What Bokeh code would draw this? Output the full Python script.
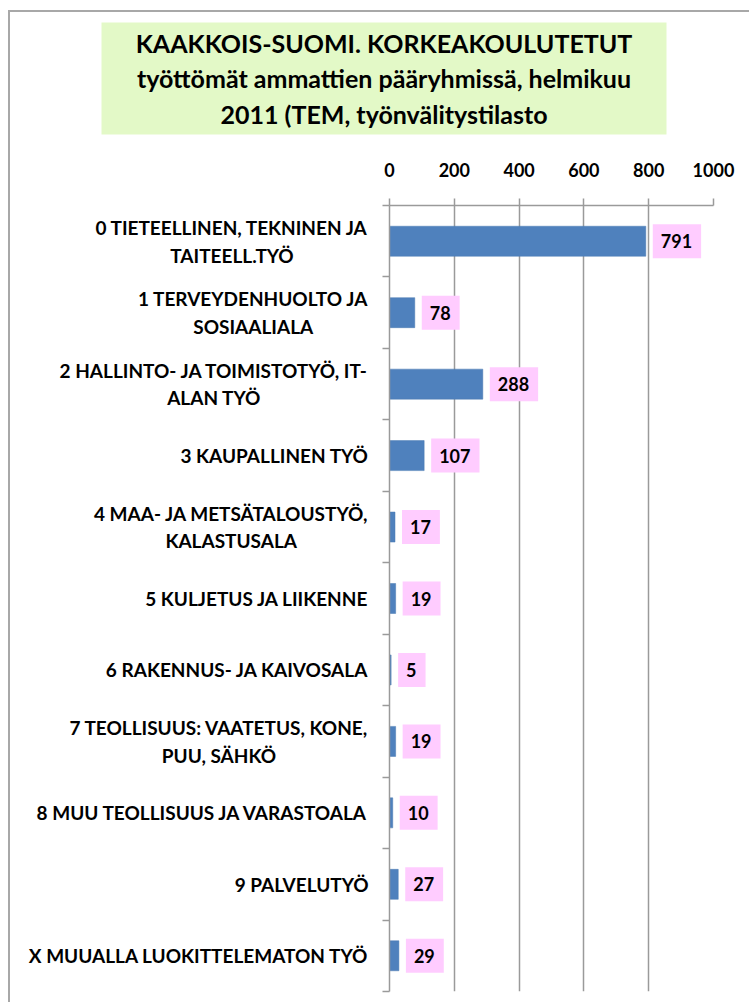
from bokeh.plotting import figure
from bokeh.models import ColumnDataSource, FixedTicker, Range1d
from bokeh.layouts import column, row
from bokeh.core.properties import value
from bokeh.embed import file_html
from bokeh.resources import INLINE

title_lines = ["KAAKKOIS-SUOMI. KORKEAKOULUTETUT",
               "työttömät ammattien pääryhmissä, helmikuu",
               "2011 (TEM, työnvälitystilasto"]

categories = [
    "0 TIETEELLINEN, TEKNINEN JA\nTAITEELL.TYÖ",
    "1 TERVEYDENHUOLTO JA\nSOSIAALIALA",
    "2 HALLINTO- JA TOIMISTOTYÖ, IT-\nALAN TYÖ",
    "3 KAUPALLINEN TYÖ",
    "4 MAA- JA METSÄTALOUSTYÖ,\nKALASTUSALA",
    "5 KULJETUS JA LIIKENNE",
    "6 RAKENNUS- JA KAIVOSALA",
    "7 TEOLLISUUS: VAATETUS, KONE,\nPUU, SÄHKÖ",
    "8 MUU TEOLLISUUS JA VARASTOALA",
    "9 PALVELUTYÖ",
    "X MUUALLA LUOKITTELEMATON TYÖ",
]
values = [791, 78, 288, 107, 17, 19, 5, 19, 10, 27, 29]
x_ticks = [0, 200, 400, 600, 800, 1000]

FONT = "Lato"
n = len(categories)
ypos = list(range(n))
yrange = Range1d(n - 0.5, -0.5)

src = ColumnDataSource(dict(y=ypos, v=values, lbl=[str(v) for v in values], cat=categories))

# ---------------- title panel ----------------
tf = figure(width=739, height=130, output_backend="svg", toolbar_location=None,
            x_range=Range1d(0, 739), y_range=Range1d(130, 0),
            x_axis_type=None, y_axis_type=None,
            min_border=0, min_border_left=0, min_border_right=0,
            min_border_top=0, min_border_bottom=0)
tf.outline_line_color = None
tf.grid.visible = False
tf.quad(left=[91], right=[656], top=[10], bottom=[122],
        fill_color="#E3F9C7", line_color=None)
tf.text(x=[373.5], y=[66], text=["\n".join(title_lines)],
        text_align="center", text_baseline="middle",
        text_font=value(FONT), text_font_style="bold", text_font_size="25px",
        text_line_height=1.18, text_color="#000000")

# ---------------- category label panel ----------------
lf = figure(width=372, height=860, output_backend="svg", toolbar_location=None,
            x_range=Range1d(0, 372), y_range=yrange,
            x_axis_type=None, y_axis_type=None,
            min_border_left=0, min_border_right=0,
            min_border_top=63, min_border_bottom=11)
lf.outline_line_color = None
lf.grid.visible = False
lf.text(x=358, y="y", text="cat", source=src, anchor="center_right",
        text_align="center", text_baseline="middle",
        text_font=value(FONT), text_font_style="bold", text_font_size="19px",
        text_line_height=1.2, text_color="#000000")

# ---------------- chart panel ----------------
p = figure(width=367, height=860, output_backend="svg", toolbar_location=None,
           x_range=Range1d(0, 1000), y_range=yrange,
           x_axis_location="above", min_border_left=7, min_border_right=36,
           min_border_top=63, min_border_bottom=11)
p.outline_line_color = None
p.background_fill_color = "white"

p.hbar(y="y", right="v", left=0, height=0.42, source=src,
       fill_color="#4F81BD", line_color="#4A7AB3", line_width=0.5)

p.text(x="v", y="y", text="lbl", source=src, x_offset=7,
       text_align="left", text_baseline="middle",
       text_font=value(FONT), text_font_style="bold", text_font_size="18px",
       text_color="#000000", background_fill_color="#FFCCFF",
       padding=dict(left=8, right=9, top=10, bottom=10))

xa = p.xaxis[0]
xa.ticker = FixedTicker(ticks=x_ticks)
xa.axis_line_color = "#9a9a9a"
xa.axis_line_width = 1.5
xa.major_tick_line_color = "#9a9a9a"
xa.major_tick_line_width = 1.5
xa.major_tick_out = 7
xa.major_tick_in = 0
xa.minor_tick_out = 0
xa.minor_tick_in = 0
xa.major_label_standoff = 22
xa.major_label_text_font = FONT
xa.major_label_text_font_style = "bold"
xa.major_label_text_font_size = "18px"
xa.major_label_text_color = "#000000"

ya = p.yaxis[0]
ya.ticker = FixedTicker(ticks=[], minor_ticks=[i - 0.5 for i in range(n + 1)])
ya.axis_line_color = "#9a9a9a"
ya.axis_line_width = 1.5
ya.major_tick_out = 0
ya.major_tick_in = 0
ya.minor_tick_out = 7
ya.minor_tick_in = 0
ya.minor_tick_line_color = "#9a9a9a"
ya.minor_tick_line_width = 1.5

p.xgrid.ticker = FixedTicker(ticks=x_ticks)
p.xgrid.grid_line_color = "#9a9a9a"
p.xgrid.grid_line_width = 1.5
p.ygrid.grid_line_color = None

layout = column(tf, row(lf, p, spacing=0), spacing=0)
layout.styles = {"margin-left": "8px", "margin-top": "10px",
                 "border-left": "2px solid #a8a8a8", "border-top": "2px solid #a8a8a8"}

open("out.html", "w").write(file_html(layout, INLINE))
